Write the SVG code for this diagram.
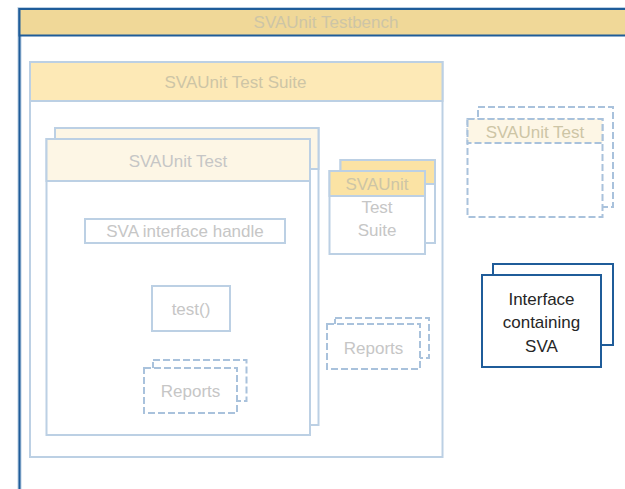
<svg xmlns="http://www.w3.org/2000/svg" width="625" height="489" viewBox="0 0 625 489">
<style>
.lb{fill:#fff;stroke:#bcd0e4;stroke-width:2}
.dash{fill:#fff;stroke:#a9c2dc;stroke-width:2;stroke-dasharray:7 3}
.db{fill:#fff;stroke:#1f5c99;stroke-width:2}
.t{font-family:"Liberation Sans",Arial,sans-serif;font-size:17px;text-anchor:middle;fill:#c6c6c6}
.th{fill:#cdc5a6}
.td{fill:#262626}
</style>
<rect width="625" height="489" fill="#fff"/>
<g id="testbench">
<rect x="19.5" y="9" width="620" height="500" fill="#fff" stroke="#bcd0e4" stroke-width="4"/>
<rect x="19.5" y="9" width="620" height="500" fill="none" stroke="#1f5c99" stroke-width="2"/>
<rect x="19.5" y="9" width="620" height="26.5" fill="#f0d898" stroke="#1f5c99" stroke-width="2"/>
<text class="t th" x="326" y="28">SVAUnit Testbench</text>
</g>
<g id="test-suite">
<rect class="lb" x="30" y="62" width="412.5" height="395"/>
<rect x="30" y="62" width="412.5" height="39" fill="#fde9b6" stroke="#bcd0e4" stroke-width="2"/>
<text class="t th" x="235.5" y="87.5">SVAUnit Test Suite</text>
</g>
<g id="test">
<rect class="lb" x="55" y="128" width="263.5" height="297"/>
<rect x="55" y="128" width="263.5" height="41" fill="#fdf6e5" stroke="#bcd0e4" stroke-width="2"/>
<rect class="lb" x="46.5" y="139" width="263.5" height="296"/>
<rect x="46.5" y="139" width="263.5" height="42" fill="#fdf6e5" stroke="#bcd0e4" stroke-width="2"/>
<text class="t" x="178" y="166.5">SVAUnit Test</text>
</g>
<g id="interface-handle">
<rect class="lb" x="85" y="219" width="200" height="24"/>
<text class="t" x="185" y="237">SVA interface handle</text>
</g>
<g id="test-fn">
<rect class="lb" x="152" y="286" width="78" height="45"/>
<text class="t" x="191" y="314.5">test()</text>
</g>
<g id="reports-test">
<rect class="dash" x="153" y="360" width="93.5" height="41"/>
<rect class="dash" x="144" y="368" width="93" height="45"/>
<text class="t" x="190.5" y="396.5">Reports</text>
</g>
<g id="nested-suite">
<rect class="lb" x="340.5" y="160" width="94.5" height="83"/>
<rect x="340.5" y="160" width="94.5" height="24" fill="#fbe3a4" stroke="#bcd0e4" stroke-width="2"/>
<rect class="lb" x="329.5" y="171" width="95.5" height="83"/>
<rect x="329.5" y="171" width="95.5" height="25" fill="#fbe3a4" stroke="#bcd0e4" stroke-width="2"/>
<text class="t th" x="377" y="189.5">SVAUnit</text>
<text class="t" x="377" y="213">Test</text>
<text class="t" x="377" y="236">Suite</text>
</g>
<g id="reports-suite">
<rect class="dash" x="335" y="318" width="94" height="40"/>
<rect class="dash" x="327" y="324" width="93" height="45"/>
<text class="t" x="373.5" y="354">Reports</text>
</g>
<g id="dashed-test">
<rect class="dash" x="478" y="107" width="135" height="100"/>
<rect class="dash" x="467.5" y="119" width="135" height="98"/>
<rect x="467.5" y="119" width="135" height="24" fill="#fdf6e5" stroke="#a9c2dc" stroke-width="2" stroke-dasharray="7 3"/>
<text class="t th" x="535" y="138">SVAUnit Test</text>
</g>
<g id="interface-sva">
<rect class="db" x="493" y="264" width="120" height="81"/>
<rect class="db" x="482" y="275" width="119" height="92"/>
<text class="t td" x="541.5" y="305">Interface</text>
<text class="t td" x="541.5" y="328">containing</text>
<text class="t td" x="541.5" y="352">SVA</text>
</g>
<g id="connectors"></g>
</svg>
